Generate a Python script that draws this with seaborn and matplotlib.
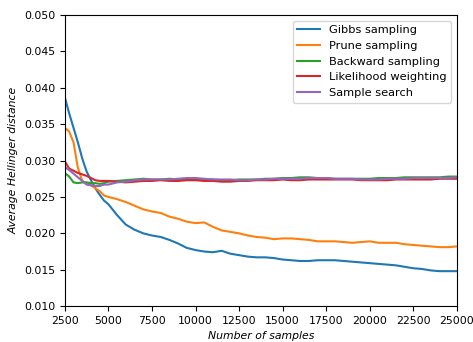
import numpy as np
import pandas as pd
import matplotlib
matplotlib.use("Agg")
import matplotlib.pyplot as plt
import seaborn as sns

samples = [2500, 2750, 3000, 3250, 3500, 3750, 4000, 4250, 4500, 4750, 5000] + list(range(5500, 25001, 500))

gibbs = [0.0387, 0.0365, 0.0345, 0.0325, 0.0303, 0.0285, 0.0273, 0.0262, 0.0253, 0.0245, 0.0240,
         0.0225, 0.0212, 0.0205, 0.0200, 0.0197, 0.0195, 0.0191, 0.0186, 0.0180, 0.0177,
         0.0175, 0.0174, 0.0176, 0.0172, 0.0170, 0.0168, 0.0167, 0.0167, 0.0166, 0.0164,
         0.0163, 0.0162, 0.0162, 0.0163, 0.0163, 0.0163, 0.0162, 0.0161, 0.0160, 0.0159,
         0.0158, 0.0157, 0.0156, 0.0154, 0.0152, 0.0151, 0.0149, 0.0148, 0.0148, 0.0148]
prune = [0.0345, 0.0340, 0.0325, 0.0290, 0.0272, 0.0269, 0.0266, 0.0262, 0.0258, 0.0252, 0.0250,
         0.0247, 0.0243, 0.0238, 0.0233, 0.0230, 0.0228, 0.0223, 0.0220, 0.0216, 0.0214,
         0.0215, 0.0209, 0.0204, 0.0202, 0.0200, 0.0197, 0.0195, 0.0194, 0.0192, 0.0193,
         0.0193, 0.0192, 0.0191, 0.0189, 0.0189, 0.0189, 0.0188, 0.0187, 0.0188, 0.0189,
         0.0187, 0.0187, 0.0187, 0.0185, 0.0184, 0.0183, 0.0182, 0.0181, 0.0181, 0.0182]
backward = [0.0283, 0.0278, 0.0270, 0.0269, 0.0270, 0.0270, 0.0269, 0.0269, 0.0268, 0.0269, 0.0271,
            0.0272, 0.0273, 0.0274, 0.0275, 0.0274, 0.0274, 0.0275, 0.0274, 0.0274, 0.0275,
            0.0274, 0.0274, 0.0273, 0.0273, 0.0274, 0.0274, 0.0274, 0.0275, 0.0275, 0.0276,
            0.0276, 0.0277, 0.0277, 0.0276, 0.0276, 0.0275, 0.0275, 0.0275, 0.0275, 0.0275,
            0.0276, 0.0276, 0.0276, 0.0277, 0.0277, 0.0277, 0.0277, 0.0277, 0.0278, 0.0278]
likelihood = [0.0299, 0.0289, 0.0286, 0.0283, 0.0281, 0.0279, 0.0276, 0.0273, 0.0272, 0.0272, 0.0272,
              0.0271, 0.0270, 0.0271, 0.0272, 0.0272, 0.0273, 0.0272, 0.0272, 0.0273, 0.0273,
              0.0272, 0.0272, 0.0271, 0.0271, 0.0272, 0.0272, 0.0273, 0.0273, 0.0273, 0.0274,
              0.0273, 0.0273, 0.0274, 0.0274, 0.0274, 0.0274, 0.0274, 0.0274, 0.0273, 0.0273,
              0.0273, 0.0273, 0.0274, 0.0274, 0.0274, 0.0274, 0.0274, 0.0275, 0.0275, 0.0275]
search = [0.0291, 0.0287, 0.0282, 0.0277, 0.0272, 0.0267, 0.0266, 0.0265, 0.0265, 0.0267, 0.0267,
          0.0270, 0.0271, 0.0273, 0.0274, 0.0274, 0.0274, 0.0274, 0.0275, 0.0276, 0.0276,
          0.0275, 0.0274, 0.0274, 0.0274, 0.0273, 0.0273, 0.0274, 0.0274, 0.0275, 0.0275,
          0.0275, 0.0275, 0.0276, 0.0276, 0.0276, 0.0275, 0.0275, 0.0275, 0.0274, 0.0274,
          0.0274, 0.0275, 0.0275, 0.0275, 0.0276, 0.0276, 0.0276, 0.0276, 0.0276, 0.0277]

methods = ["Gibbs sampling", "Prune sampling", "Backward sampling", "Likelihood weighting", "Sample search"]
series = [gibbs, prune, backward, likelihood, search]

frames = []
for name, vals in zip(methods, series):
    frames.append(pd.DataFrame({"samples": samples, "distance": vals, "method": name}))
df = pd.concat(frames, ignore_index=True)

plt.rcParams["font.family"] = ["DejaVu Sans"]
plt.rcParams["font.size"] = 7.8

fig, ax = plt.subplots(figsize=(4.73, 3.42), dpi=100)
fig.subplots_adjust(left=0.137, right=0.966, top=0.956, bottom=0.105)

palette = ["#1f77b4", "#ff7f0e", "#2ca02c", "#d62728", "#9467bd"]
sns.lineplot(data=df, x="samples", y="distance", hue="method", hue_order=methods,
             palette=palette, linewidth=1.5, ax=ax)

ax.set_xlim(2500, 25000)
ax.set_ylim(0.010, 0.050)
ax.set_xticks(np.arange(2500, 25001, 2500))
ax.set_yticks(np.arange(0.010, 0.0501, 0.005))
ax.yaxis.set_major_formatter(matplotlib.ticker.FormatStrFormatter("%.3f"))
ax.set_xlabel("Number of samples", style="italic")
ax.set_ylabel("Average Hellinger distance", style="italic")
ax.tick_params(labelsize=7.8)
leg = ax.legend(loc="upper right", fontsize=8.2, title=None)

fig.savefig("out.png", dpi=100)
